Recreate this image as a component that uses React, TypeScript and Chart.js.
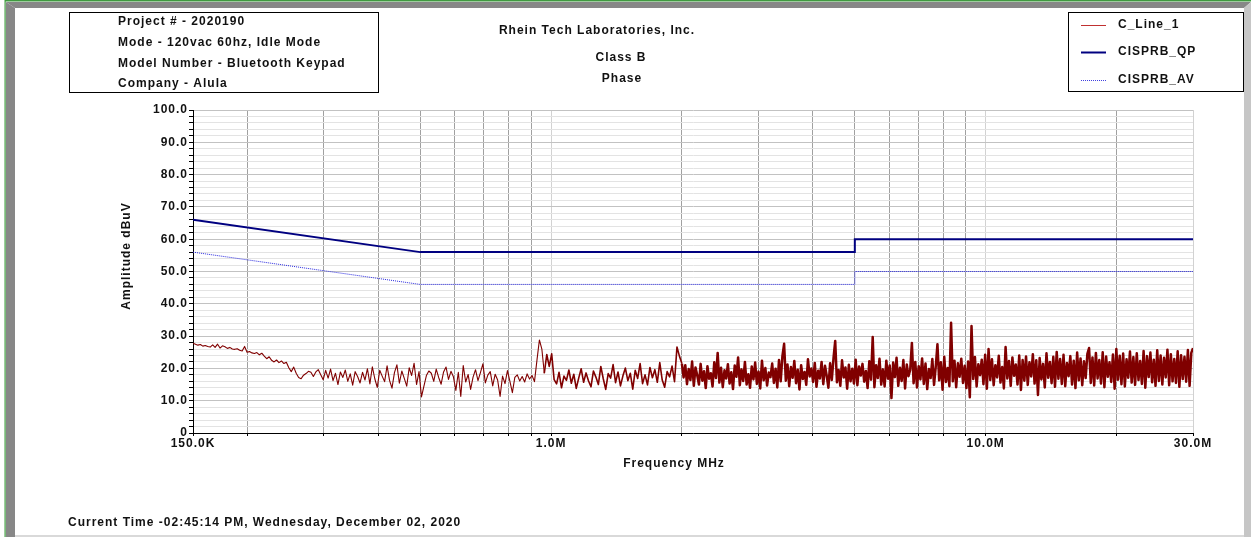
import React, { useEffect, useRef } from 'react';
import { Chart, registerables } from 'chart.js';

Chart.register(...registerables);

const W = 1251;
const H = 537;
const FONT = '"Liberation Sans", Arial, sans-serif';

// ---- texts ----
const headerLines = [
  'Project # - 2020190',
  'Mode - 120vac 60hz, Idle Mode',
  'Model Number - Bluetooth Keypad',
  'Company - Alula',
];
const titleLines = ['Rhein Tech Laboratories, Inc.', 'Class B', 'Phase'];
const legendLabels = ['C_Line_1', 'CISPRB_QP', 'CISPRB_AV'];
const footerText = 'Current Time -02:45:14 PM, Wednesday, December 02, 2020';
const xAxisTitle = 'Frequency MHz';
const yAxisTitle = 'Amplitude dBuV';

// ---- axes ----
const xTickValues = [0.15, 0.2, 0.3, 0.4, 0.5, 0.6, 0.7, 0.8, 0.9, 1, 2, 3, 4, 5, 6, 7, 8, 9, 10, 20, 30];
const xDecadeLines = [1, 10, 30];
const xTickLabels: Record<string, string> = { '0.15': '150.0K', '1': '1.0M', '10': '10.0M', '30': '30.0M' };
const yTickValues = [0, 2, 4, 6, 8, 10, 12, 14, 16, 18, 20, 22, 24, 26, 28, 30, 32, 34, 36, 38, 40, 42, 44, 46, 48, 50,
  52, 54, 56, 58, 60, 62, 64, 66, 68, 70, 72, 74, 76, 78, 80, 82, 84, 86, 88, 90, 92, 94, 96, 98, 100];

// ---- limit lines ----
const qpFreqMHz = [0.15, 0.5, 5, 5, 30];
const qpLimit = [66, 56, 56, 60, 60];
const avFreqMHz = [0.15, 0.5, 5, 5, 30];
const avLimit = [56, 46, 46, 50, 50];

// ---- measured trace (two sweep segments, log-spaced sweep points) ----
const sweepAStartMHz = 0.15;
const sweepAStopMHz = 2.0;
const sweepA = [
  27.8, 27.5, 27.2, 27.4, 26.9, 27.1, 26.8, 26.6, 27.3, 26.5, 27.5, 26.3, 27.0, 26.7, 26.2, 26.5, 26.0, 25.9, 26.1, 25.6, 25.4, 26.8,
  25.0, 25.2, 24.8, 24.6, 24.9, 24.2, 24.7, 23.8, 23.0, 23.6, 22.5, 22.0, 22.6, 21.8, 22.3, 21.5, 21.9, 20.2,
  19.0, 20.4, 18.5, 17.2, 16.8, 17.9, 18.4, 19.1, 18.8, 17.5, 18.9, 19.6, 18.0, 16.5, 19.4, 17.0,
  19.8, 16.2, 18.5, 15.0, 18.9, 17.2, 19.5, 16.0, 18.3, 14.8, 19.0, 17.5, 15.5, 18.8, 16.4, 19.9, 15.2, 20.5, 16.8, 14.1,
  19.4, 17.6, 15.9, 20.8, 16.3, 13.9, 18.7, 21.1, 15.4, 19.2, 16.9, 14.5, 20.2, 17.8, 21.6, 15.0, 19.0,
  11.2, 14.5, 17.8, 19.2, 18.5, 16.0, 19.8, 17.2, 15.1, 18.9, 20.4, 16.6, 19.1, 17.4, 13.2, 18.8, 11.3, 20.9, 15.8, 18.1,
  13.5, 17.3, 19.6, 16.2, 18.7, 21.4, 15.5, 17.9, 19.0, 14.6, 18.2, 16.4, 11.3, 17.6, 15.3, 19.3, 16.0, 12.5, 17.2, 18.0,
  16.1, 17.5, 15.8, 18.3, 16.7, 17.8, 15.9, 22.5, 28.8, 26.0, 18.5, 24.3, 20.6, 24.5,
  16.5, 15.2, 18.8, 14.0, 17.6, 16.3, 19.5, 15.4, 18.2, 13.8, 17.0, 19.9, 15.7, 18.6, 16.1, 14.3, 19.2, 17.3, 15.0, 20.6,
  16.8, 13.5, 18.4, 17.0, 21.2, 15.6, 18.9, 14.6, 17.7, 20.1, 16.2, 18.5, 13.6, 19.4, 16.9, 21.5, 15.3, 18.0, 14.9, 20.3,
  17.1, 19.6, 15.7, 21.8, 16.4, 14.2, 19.0, 17.4, 20.7, 15.9, 26.6, 23.8, 21.5,
];
const sweepBStartMHz = 2.0;
const sweepBStopMHz = 30.0;
const sweepB = [
  17.2, 21.0, 15.1, 19.8, 16.4, 22.1, 14.6, 20.3, 17.9, 15.0, 21.4, 16.2, 19.1, 13.9, 20.7, 16.8, 18.5, 14.4, 21.9, 17.0,
  24.8, 15.6, 20.2, 14.2, 19.4, 16.9, 21.3, 15.3, 18.8, 13.6, 20.9, 17.4, 23.4, 14.8, 19.7, 16.1, 22.0, 15.0, 18.2, 14.0,
  20.6, 16.6, 21.8, 15.2, 19.0, 13.8, 22.4, 16.3, 20.1, 14.7, 18.7, 17.3, 21.5, 15.5, 19.9, 14.1, 22.6, 16.0, 23.8, 27.6,
  16.2, 21.2, 14.5, 20.4, 17.1, 22.3, 15.4, 19.6, 13.5, 21.0, 16.7, 18.9, 14.9, 22.8, 17.5, 20.0, 15.8, 21.7, 14.3, 19.3,
  16.9, 22.0, 15.1, 20.8, 17.7, 14.0, 21.6, 16.4, 23.2, 28.5, 15.7, 19.5, 14.6, 22.5, 17.2, 20.3, 13.7, 21.1, 16.0, 19.9,
  15.3, 22.7, 14.8, 20.6, 17.8, 21.4, 15.9, 19.2, 13.9, 22.2, 16.5, 29.7, 14.2, 21.0, 17.0, 23.0, 15.0, 19.7, 14.4, 22.4,
  16.8, 20.9, 10.8, 21.8, 17.3, 23.3, 14.6, 20.2, 16.1, 22.6, 13.8, 21.2, 17.6, 19.5, 27.9, 15.4, 22.0, 14.1, 20.7, 16.6,
  23.1, 15.2, 21.5, 13.6, 19.8, 17.0, 22.9, 14.9, 20.5, 27.5, 16.3, 21.9, 13.4, 23.6, 15.8, 20.1, 14.5, 34.1, 16.0, 22.4,
  14.2, 21.6, 17.4, 23.0, 15.5, 20.8, 13.9, 22.1, 11.1, 33.1, 16.7, 23.5, 14.4, 21.3, 17.9, 22.7, 15.1, 24.2, 13.7, 26.0,
  16.4, 22.8, 14.8, 21.0, 17.2, 23.9, 15.6, 20.4, 13.8, 26.6, 16.9, 22.3, 14.6, 23.4, 17.7, 21.2, 15.0, 24.0, 13.3, 22.6,
  16.2, 23.7, 14.9, 21.9, 17.5, 24.4, 15.3, 22.5, 11.8, 23.2, 16.6, 21.4, 14.1, 24.7, 17.1, 22.0, 15.4, 23.6, 14.3, 25.1,
  16.8, 22.9, 15.2, 24.2, 14.5, 21.7, 17.6, 23.8, 15.0, 22.4, 13.9, 24.9, 16.3, 23.1, 14.8, 22.2, 17.0, 24.5, 26.3, 15.5,
  23.4, 14.7, 24.8, 16.9, 22.6, 15.3, 25.0, 14.2, 23.7, 17.4, 21.9, 15.8, 24.3, 13.7, 26.0, 16.5, 23.9, 15.1, 24.6, 14.4,
  22.8, 17.1, 25.2, 15.6, 23.5, 14.9, 24.7, 16.4, 22.3, 15.2, 25.4, 14.0, 23.8, 17.3, 24.9, 15.7, 22.7, 14.6, 25.6, 16.1,
  24.0, 15.0, 23.3, 17.2, 25.8, 14.8, 24.4, 16.0, 22.9, 15.5, 25.3, 14.3, 24.1, 16.7, 23.6, 15.9, 25.7, 14.6, 24.8, 26.3,
];

// colours
const traceColor = '#800000';
const qpColor = '#000080';
const avColor = '#2828e0';

function buildTrace() {
  const pts: { x: number; y: number }[] = [];
  const nA = sweepA.length;
  sweepA.forEach((v, i) => {
    pts.push({ x: sweepAStartMHz * Math.pow(sweepAStopMHz / sweepAStartMHz, i / (nA - 1)), y: v });
  });
  const nB = sweepB.length;
  sweepB.forEach((v, i) => {
    pts.push({ x: sweepBStartMHz * Math.pow(sweepBStopMHz / sweepBStartMHz, (i + 1) / nB), y: v });
  });
  return pts;
}

const decor = {
  id: 'decor',
  beforeDraw(chart: any) {
    const ctx = chart.ctx as CanvasRenderingContext2D;
    ctx.save();
    ctx.fillStyle = '#ffffff';
    ctx.fillRect(0, 0, W, H);
    // frame: dark gray top + left bevel, light gray right, green outline
    ctx.fillStyle = '#878787';
    ctx.beginPath();
    ctx.moveTo(6, 2); ctx.lineTo(W, 2); ctx.lineTo(1244, 8); ctx.lineTo(15, 8); ctx.closePath(); ctx.fill();
    ctx.beginPath();
    ctx.moveTo(6, 2); ctx.lineTo(15, 8); ctx.lineTo(15, H); ctx.lineTo(6, H); ctx.closePath(); ctx.fill();
    ctx.fillStyle = '#c6c6c6';
    ctx.beginPath();
    ctx.moveTo(W, 2); ctx.lineTo(W, H); ctx.lineTo(1244, H); ctx.lineTo(1244, 8); ctx.closePath(); ctx.fill();
    ctx.fillStyle = '#d9d9d9';
    ctx.fillRect(15, 535, 1229, 2);
    ctx.fillStyle = '#3f9a3f';
    ctx.fillRect(5, 0, W - 5, 1.5);
    ctx.fillRect(4.5, 0, 1.2, H);
    ctx.restore();
    (ctx as any).letterSpacing = '1px';
  },
  afterDraw(chart: any) {
    const ctx = chart.ctx as CanvasRenderingContext2D;
    ctx.save();
    (ctx as any).letterSpacing = '1px';
    ctx.font = `bold 12px ${FONT}`;
    ctx.fillStyle = '#111111';
    ctx.textBaseline = 'middle';

    // header box
    ctx.strokeStyle = '#000';
    ctx.lineWidth = 1;
    ctx.strokeRect(69.5, 12.5, 309, 80);
    ctx.textAlign = 'left';
    const headerY = [22, 43, 64, 84];
    headerLines.forEach((t, i) => ctx.fillText(t, 118, headerY[i]));

    // titles
    ctx.textAlign = 'center';
    const titlePos = [[597, 31], [621, 58], [622, 79]];
    titleLines.forEach((t, i) => ctx.fillText(t, titlePos[i][0], titlePos[i][1]));

    // legend
    ctx.strokeRect(1068.5, 12.5, 175, 79);
    const legY = [25, 52, 80];
    const legStyles = [
      { c: '#c03030', w: 1, d: [] as number[] },
      { c: qpColor, w: 2, d: [] as number[] },
      { c: '#4040e0', w: 1, d: [1, 1] },
    ];
    legendLabels.forEach((t, i) => {
      const s = legStyles[i];
      ctx.save();
      ctx.strokeStyle = s.c;
      ctx.lineWidth = s.w;
      ctx.setLineDash(s.d);
      ctx.beginPath();
      ctx.moveTo(1081, legY[i] + 0.5);
      ctx.lineTo(1106, legY[i] + 0.5);
      ctx.stroke();
      ctx.restore();
      ctx.textAlign = 'left';
      ctx.fillText(t, 1118, legY[i]);
    });

    // axis titles
    ctx.textAlign = 'center';
    ctx.fillText(xAxisTitle, 674, 464);
    ctx.save();
    ctx.translate(127, 256);
    ctx.rotate(-Math.PI / 2);
    ctx.fillText(yAxisTitle, 0, 0);
    ctx.restore();

    // footer
    ctx.textAlign = 'left';
    ctx.fillText(footerText, 68, 523);
    ctx.restore();
  },
};

export default function App() {
  const ref = useRef<HTMLCanvasElement | null>(null);
  useEffect(() => {
    if (!ref.current) return;
    const tickFont = { family: FONT, size: 12, weight: 'bold' as const };
    const nA = sweepA.length;
    const chart = new Chart(ref.current, {
      type: 'line',
      data: {
        datasets: [
          {
            label: legendLabels[0],
            data: buildTrace(),
            borderColor: traceColor,
            borderWidth: 1.1,
            borderJoinStyle: 'round',
            pointRadius: 0,
            tension: 0,
            segment: {
              borderWidth: (c: any) => (c.p0DataIndex >= nA - 1 ? 2.5 : c.p0DataIndex >= 143 ? 1.6 : 1.1),
            },
          },
          {
            label: legendLabels[1],
            data: qpFreqMHz.map((f, i) => ({ x: f, y: qpLimit[i] })),
            borderColor: qpColor,
            borderWidth: 2,
            pointRadius: 0,
            tension: 0,
          },
          {
            label: legendLabels[2],
            data: avFreqMHz.map((f, i) => ({ x: f, y: avLimit[i] })),
            borderColor: avColor,
            borderWidth: 1,
            borderDash: [1, 1],
            pointRadius: 0,
            tension: 0,
          },
        ],
      },
      options: {
        responsive: false,
        animation: false,
        events: [],
        parsing: false,
        layout: { padding: { left: 0, right: 58, top: 110, bottom: 0 } },
        plugins: { legend: { display: false }, tooltip: { enabled: false }, title: { display: false } },
        scales: {
          x: {
            type: 'logarithmic',
            min: 0.15,
            max: 30,
            afterBuildTicks: (s: any) => {
              s.ticks = xTickValues.map((v) => ({ value: v }));
            },
            afterFit: (s: any) => {
              s.height = 104;
            },
            ticks: {
              autoSkip: false,
              maxRotation: 0,
              minRotation: 0,
              padding: 0,
              font: tickFont,
              color: '#111',
              callback: (v: any) => xTickLabels[String(v)] ?? '',
            },
            grid: {
              color: (c: any) => (xDecadeLines.includes(c.tick?.value) ? '#d2d2d2' : '#a0a0a0'),
              tickColor: '#000',
              tickLength: 3,
              lineWidth: 1,
            },
            border: { color: '#000', width: 1 },
          },
          y: {
            type: 'linear',
            min: 0,
            max: 100,
            afterBuildTicks: (s: any) => {
              s.ticks = yTickValues.map((v) => ({ value: v }));
            },
            afterFit: (s: any) => {
              s.width = 193;
            },
            ticks: {
              autoSkip: false,
              padding: 1,
              font: tickFont,
              color: '#111',
              callback: (v: any) => (v % 10 === 0 ? (v === 0 ? '0' : Number(v).toFixed(1)) : ''),
            },
            grid: {
              color: (c: any) => (c.tick?.value % 10 === 0 ? '#c2c2c2' : '#e3e3e3'),
              tickColor: '#000',
              tickLength: 4,
              lineWidth: 1,
            },
            border: { color: '#000', width: 1 },
          },
        },
      },
      plugins: [decor],
    } as any);
    return () => chart.destroy();
  }, []);

  return (
    <div style={{ position: 'absolute', left: 0, top: 0, width: W, height: H, background: '#fff' }}>
      <canvas ref={ref} width={W} height={H} style={{ display: 'block', width: W, height: H }} />
    </div>
  );
}
